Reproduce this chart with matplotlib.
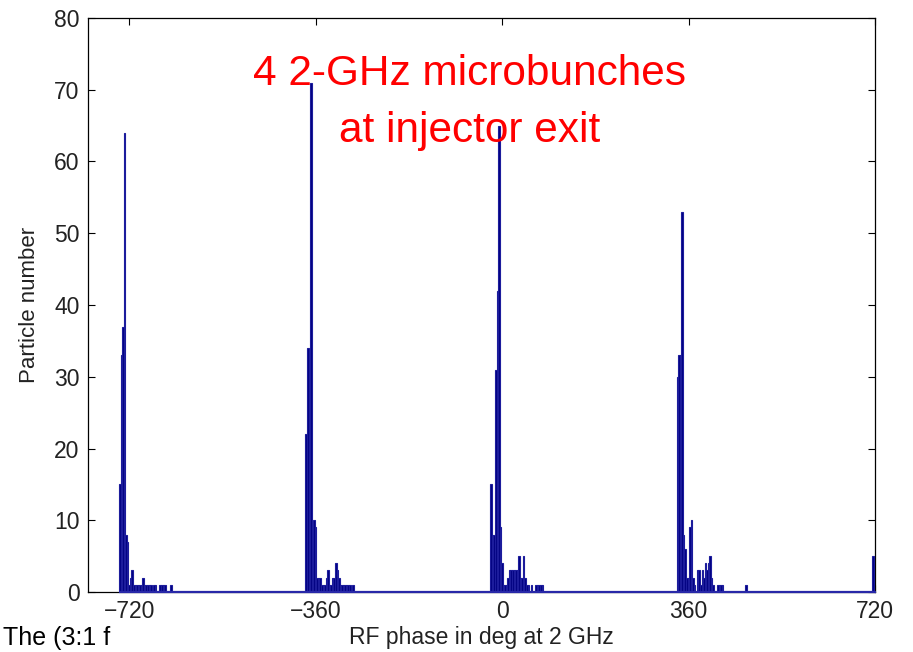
import numpy as np
import matplotlib
matplotlib.use("Agg")
import matplotlib.pyplot as plt

plt.rcParams['font.family'] = ['Liberation Sans', 'DejaVu Sans']

# histogram bins: 3 deg wide, common grid
bin_width = 3
phase_min = -740
phase_max = 722

# start phase (deg) and particle counts per bin for each 2-GHz microbunch
bunch_starts = [-740, -380, -23, 337, 715]
bunch1 = [15, 33, 37, 64, 8, 7, 1, 2, 3, 1, 1, 1, 1, 1, 1, 2, 1, 1, 1, 1, 1, 0,
          1, 1, 0, 0, 1, 1, 1, 1, 0, 0, 0, 1]
bunch2 = [22, 34, 28, 71, 6, 10, 9, 2, 2, 2, 1, 1, 1, 2, 3, 1, 1, 2, 2, 4, 3, 2,
          1, 1, 1, 1, 1, 1, 1, 0, 1]
bunch3 = [15, 8, 8, 31, 42, 65, 9, 4, 1, 1, 1, 2, 3, 3, 3, 3, 3, 3, 5, 2, 2, 5,
          2, 1, 1, 0, 1, 0, 0, 1, 1, 1, 1, 1]
bunch4 = [30, 33, 33, 53, 8, 6, 2, 2, 9, 10, 2, 1, 0, 3, 3, 1, 3, 2, 4, 3, 4, 5,
          2, 1, 0, 0, 1, 1, 1, 1, 0, 0, 0, 0, 0, 0, 0, 0, 0, 0, 0, 0, 0, 0, 1]
bunch5 = [5, 1]
bunches = [bunch1, bunch2, bunch3, bunch4, bunch5]

x_ticks = [-720, -360, 0, 360, 720]
y_ticks = [0, 10, 20, 30, 40, 50, 60, 70, 80]

# fill the full histogram
n_bins = (phase_max - phase_min) // bin_width
left_edges = phase_min + bin_width * np.arange(n_bins)
counts = np.zeros(n_bins)
for start, c in zip(bunch_starts, bunches):
    i0 = (start - phase_min) // bin_width
    counts[i0:i0 + len(c)] = c

fig = plt.figure(figsize=(9.13, 6.52), dpi=100)
ax = fig.add_axes([88 / 913, 60 / 652, 787 / 913, 574 / 652])

ax.bar(left_edges, counts, width=bin_width, align='edge',
       color='#000080', edgecolor='#1c1c9c', linewidth=0.8, zorder=3)
# empty bins show as a blue base line over the bottom spine
ax.hlines(0, left_edges[0], left_edges[-1] + bin_width, color='#2828a8',
          linewidth=1.6, zorder=6, clip_on=False)

ax.set_xlim(-800, 720)
ax.set_ylim(0, 80)
ax.set_xticks(x_ticks)
ax.set_yticks(y_ticks)
ax.tick_params(direction='in', length=5, width=0.8, top=True, right=True,
               labelsize=16.5, labelcolor='#222222', pad=6)
for s in ax.spines.values():
    s.set_linewidth(0.9)

ax.set_xlabel('RF phase in deg at 2 GHz', fontsize=16.5, color='#222222', labelpad=2)
ax.set_ylabel('Particle number', fontsize=16, color='#222222', labelpad=10)

ax.text(0.485, 0.852, '4 2-GHz microbunches\nat injector exit', transform=ax.transAxes,
        ha='center', va='center', multialignment='center', color='red',
        fontsize=30.5, linespacing=1.55, zorder=5)

# slide text at the bottom edge
fig.text(0.003, 0.011, 'The (3:1 f', fontsize=18, color='black', ha='left', va='baseline')

fig.savefig('out.png', dpi=100)
